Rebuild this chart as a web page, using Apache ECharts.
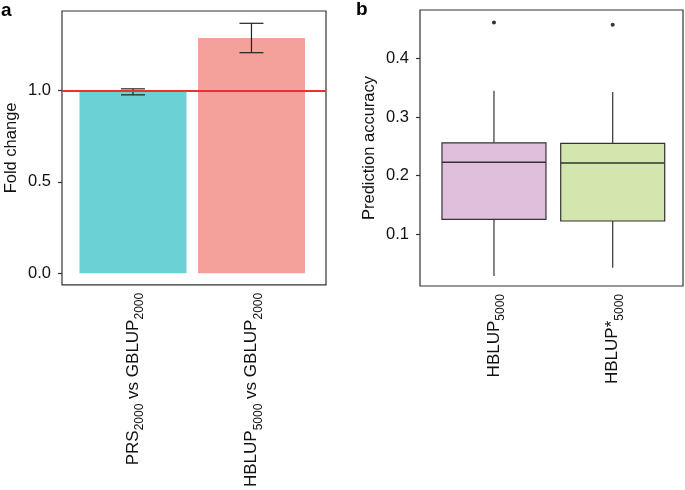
<!DOCTYPE html>
<html><head><meta charset="utf-8">
<script src="https://cdn.jsdelivr.net/npm/echarts@6/dist/echarts.min.js"></script>
<style>html,body{margin:0;padding:0;background:#fff}#c{width:685px;height:490px}</style>
</head><body><div id="c"></div>
<script>
// ---- Panel a data ----
const barCategories = ['PRS_2000 vs GBLUP_2000', 'HBLUP_5000 vs GBLUP_2000'];
const barPositions = [1, 2];
const foldChange = [1.0, 1.288];
const foldLow = [0.977, 1.208];
const foldHigh = [1.010, 1.369];
const referenceLine = 1.0;
const foldTicks = [0, 0.5, 1.0];
const barColors = ['#6CD1D4', '#F4A19B'];

// ---- Panel b data ----
const boxCategories = ['HBLUP_5000', 'HBLUP*_5000'];
const boxPositions = [1, 2];
const boxMin = [0.029, 0.043];
const boxQ1 = [0.1255, 0.1227];
const boxMedian = [0.2227, 0.2215];
const boxQ3 = [0.256, 0.255];
const boxMax = [0.3447, 0.3424];
const boxOutliers = [0.461, 0.457];
const accuracyTicks = [0.1, 0.2, 0.3, 0.4];
const boxColors = ['#E0BFDC', '#D3E6AD'];

const FONT = '"Liberation Sans", Arial, sans-serif';
const TXT = '#111';
const FRAME = '#333';

function toRich(label) {
  // "NAME_123 rest" -> rich tokens with subscripts
  const parts = label.split(/_(\d+)/);
  let out = '';
  parts.forEach((p, i) => {
    if (p === '') return;
    out += (i % 2 === 1) ? '{s|' + p + '}' : '{m|' + p + '}';
  });
  return out;
}
const richStyles = {
  m: { fontSize: 17, fontFamily: FONT, color: TXT, lineHeight: 20 },
  s: { fontSize: 12, fontFamily: FONT, color: TXT, lineHeight: 20, verticalAlign: 'bottom', padding: [0, 0, -3, 0] }
};

const chart = echarts.init(document.getElementById('c'), null, { renderer: 'canvas' });

const yLabel = (dec) => ({
  fontSize: 16.5, fontFamily: FONT, color: TXT, margin: 11,
  formatter: v => v.toFixed(dec)
});

const option = {
  animation: false,
  backgroundColor: '#fff',
  title: [
    { text: 'a', left: 1, top: 1, padding: 0, textStyle: { fontSize: 19, fontWeight: 'bold', fontFamily: FONT, color: '#000' } },
    { text: 'b', left: 356, top: 0, padding: 0, textStyle: { fontSize: 19, fontWeight: 'bold', fontFamily: FONT, color: '#000' } }
  ],
  grid: [
    { left: 62, top: 11, width: 264, height: 276, show: true, borderColor: FRAME, borderWidth: 1.2, backgroundColor: 'transparent' },
    { left: 420, top: 10, width: 263, height: 276, show: true, borderColor: FRAME, borderWidth: 1.2, backgroundColor: 'transparent' }
  ],
  xAxis: [
    {
      gridIndex: 0, type: 'value', min: 0.401, max: 2.629,
      axisLine: { show: false }, splitLine: { show: false },
      axisTick: { show: false, customValues: barPositions },
      axisLabel: {
        customValues: barPositions, rotate: 90, margin: 8,
        formatter: v => toRich(barCategories[Math.round(v) - 1]),
        rich: richStyles
      }
    },
    {
      gridIndex: 1, type: 'value', min: 0.377, max: 2.592,
      axisLine: { show: false }, splitLine: { show: false },
      axisTick: { show: false, customValues: boxPositions },
      axisLabel: {
        customValues: boxPositions, rotate: 90, margin: 8,
        formatter: v => toRich(boxCategories[Math.round(v) - 1]),
        rich: richStyles
      }
    }
  ],
  yAxis: [
    {
      gridIndex: 0, type: 'value', min: -0.0636, max: 1.4364,
      name: 'Fold change', nameLocation: 'middle', nameGap: 42,
      nameTextStyle: { fontSize: 16.5, fontFamily: FONT, color: TXT },
      axisLine: { show: false }, splitLine: { show: false },
      axisTick: { show: true, length: 4, customValues: foldTicks, lineStyle: { color: FRAME, width: 1.2 } },
      axisLabel: Object.assign({ customValues: foldTicks }, yLabel(1))
    },
    {
      gridIndex: 1, type: 'value', min: 0.0119, max: 0.4823,
      name: 'Prediction accuracy', nameLocation: 'middle', nameGap: 42,
      nameTextStyle: { fontSize: 16.5, fontFamily: FONT, color: TXT },
      axisLine: { show: false }, splitLine: { show: false },
      axisTick: { show: true, length: 4, customValues: accuracyTicks, lineStyle: { color: FRAME, width: 1.2 } },
      axisLabel: Object.assign({ customValues: accuracyTicks }, yLabel(1))
    }
  ],
  series: [
    {
      type: 'bar', xAxisIndex: 0, yAxisIndex: 0, barWidth: 107,
      data: barPositions.map((x, i) => ({ value: [x, foldChange[i]], itemStyle: { color: barColors[i] } })),
      markLine: {
        silent: true, symbol: 'none', label: { show: false },
        lineStyle: { color: '#E53431', width: 2, type: 'solid' },
        data: [{ yAxis: referenceLine }]
      },
      z: 2
    },
    {
      type: 'custom', xAxisIndex: 0, yAxisIndex: 0, z: 4,
      data: barPositions.map((x, i) => [x, foldLow[i], foldHigh[i]]),
      renderItem: (params, api) => {
        const lo = api.coord([api.value(0), api.value(1)]);
        const hi = api.coord([api.value(0), api.value(2)]);
        const hw = 12;
        const st = { stroke: '#222', lineWidth: 1.2 };
        return { type: 'group', children: [
          { type: 'line', shape: { x1: lo[0], y1: lo[1], x2: hi[0], y2: hi[1] }, style: st },
          { type: 'line', shape: { x1: lo[0] - hw, y1: lo[1], x2: lo[0] + hw, y2: lo[1] }, style: st },
          { type: 'line', shape: { x1: hi[0] - hw, y1: hi[1], x2: hi[0] + hw, y2: hi[1] }, style: st }
        ]};
      }
    },
    {
      type: 'custom', xAxisIndex: 1, yAxisIndex: 1, z: 3,
      data: boxPositions.map((x, i) => [x, boxMin[i], boxQ1[i], boxMedian[i], boxQ3[i], boxMax[i]]),
      renderItem: (params, api) => {
        const x = api.value(0);
        const pMin = api.coord([x, api.value(1)]);
        const pQ1 = api.coord([x, api.value(2)]);
        const pMed = api.coord([x, api.value(3)]);
        const pQ3 = api.coord([x, api.value(4)]);
        const pMax = api.coord([x, api.value(5)]);
        const hw = 52;
        const st = { stroke: FRAME, lineWidth: 1.2 };
        return { type: 'group', children: [
          { type: 'line', shape: { x1: pMin[0], y1: pMin[1], x2: pQ1[0], y2: pQ1[1] }, style: st },
          { type: 'line', shape: { x1: pQ3[0], y1: pQ3[1], x2: pMax[0], y2: pMax[1] }, style: st },
          { type: 'rect', shape: { x: pQ3[0] - hw, y: pQ3[1], width: hw * 2, height: pQ1[1] - pQ3[1] },
            style: { fill: boxColors[params.dataIndex], stroke: FRAME, lineWidth: 1.2 } },
          { type: 'line', shape: { x1: pMed[0] - hw, y1: pMed[1], x2: pMed[0] + hw, y2: pMed[1] }, style: { stroke: FRAME, lineWidth: 1.5 } }
        ]};
      }
    },
    {
      type: 'scatter', xAxisIndex: 1, yAxisIndex: 1, symbolSize: 4,
      itemStyle: { color: '#000' },
      data: boxPositions.map((x, i) => [x, boxOutliers[i]])
    }
  ]
};
chart.setOption(option);
</script></body></html>
